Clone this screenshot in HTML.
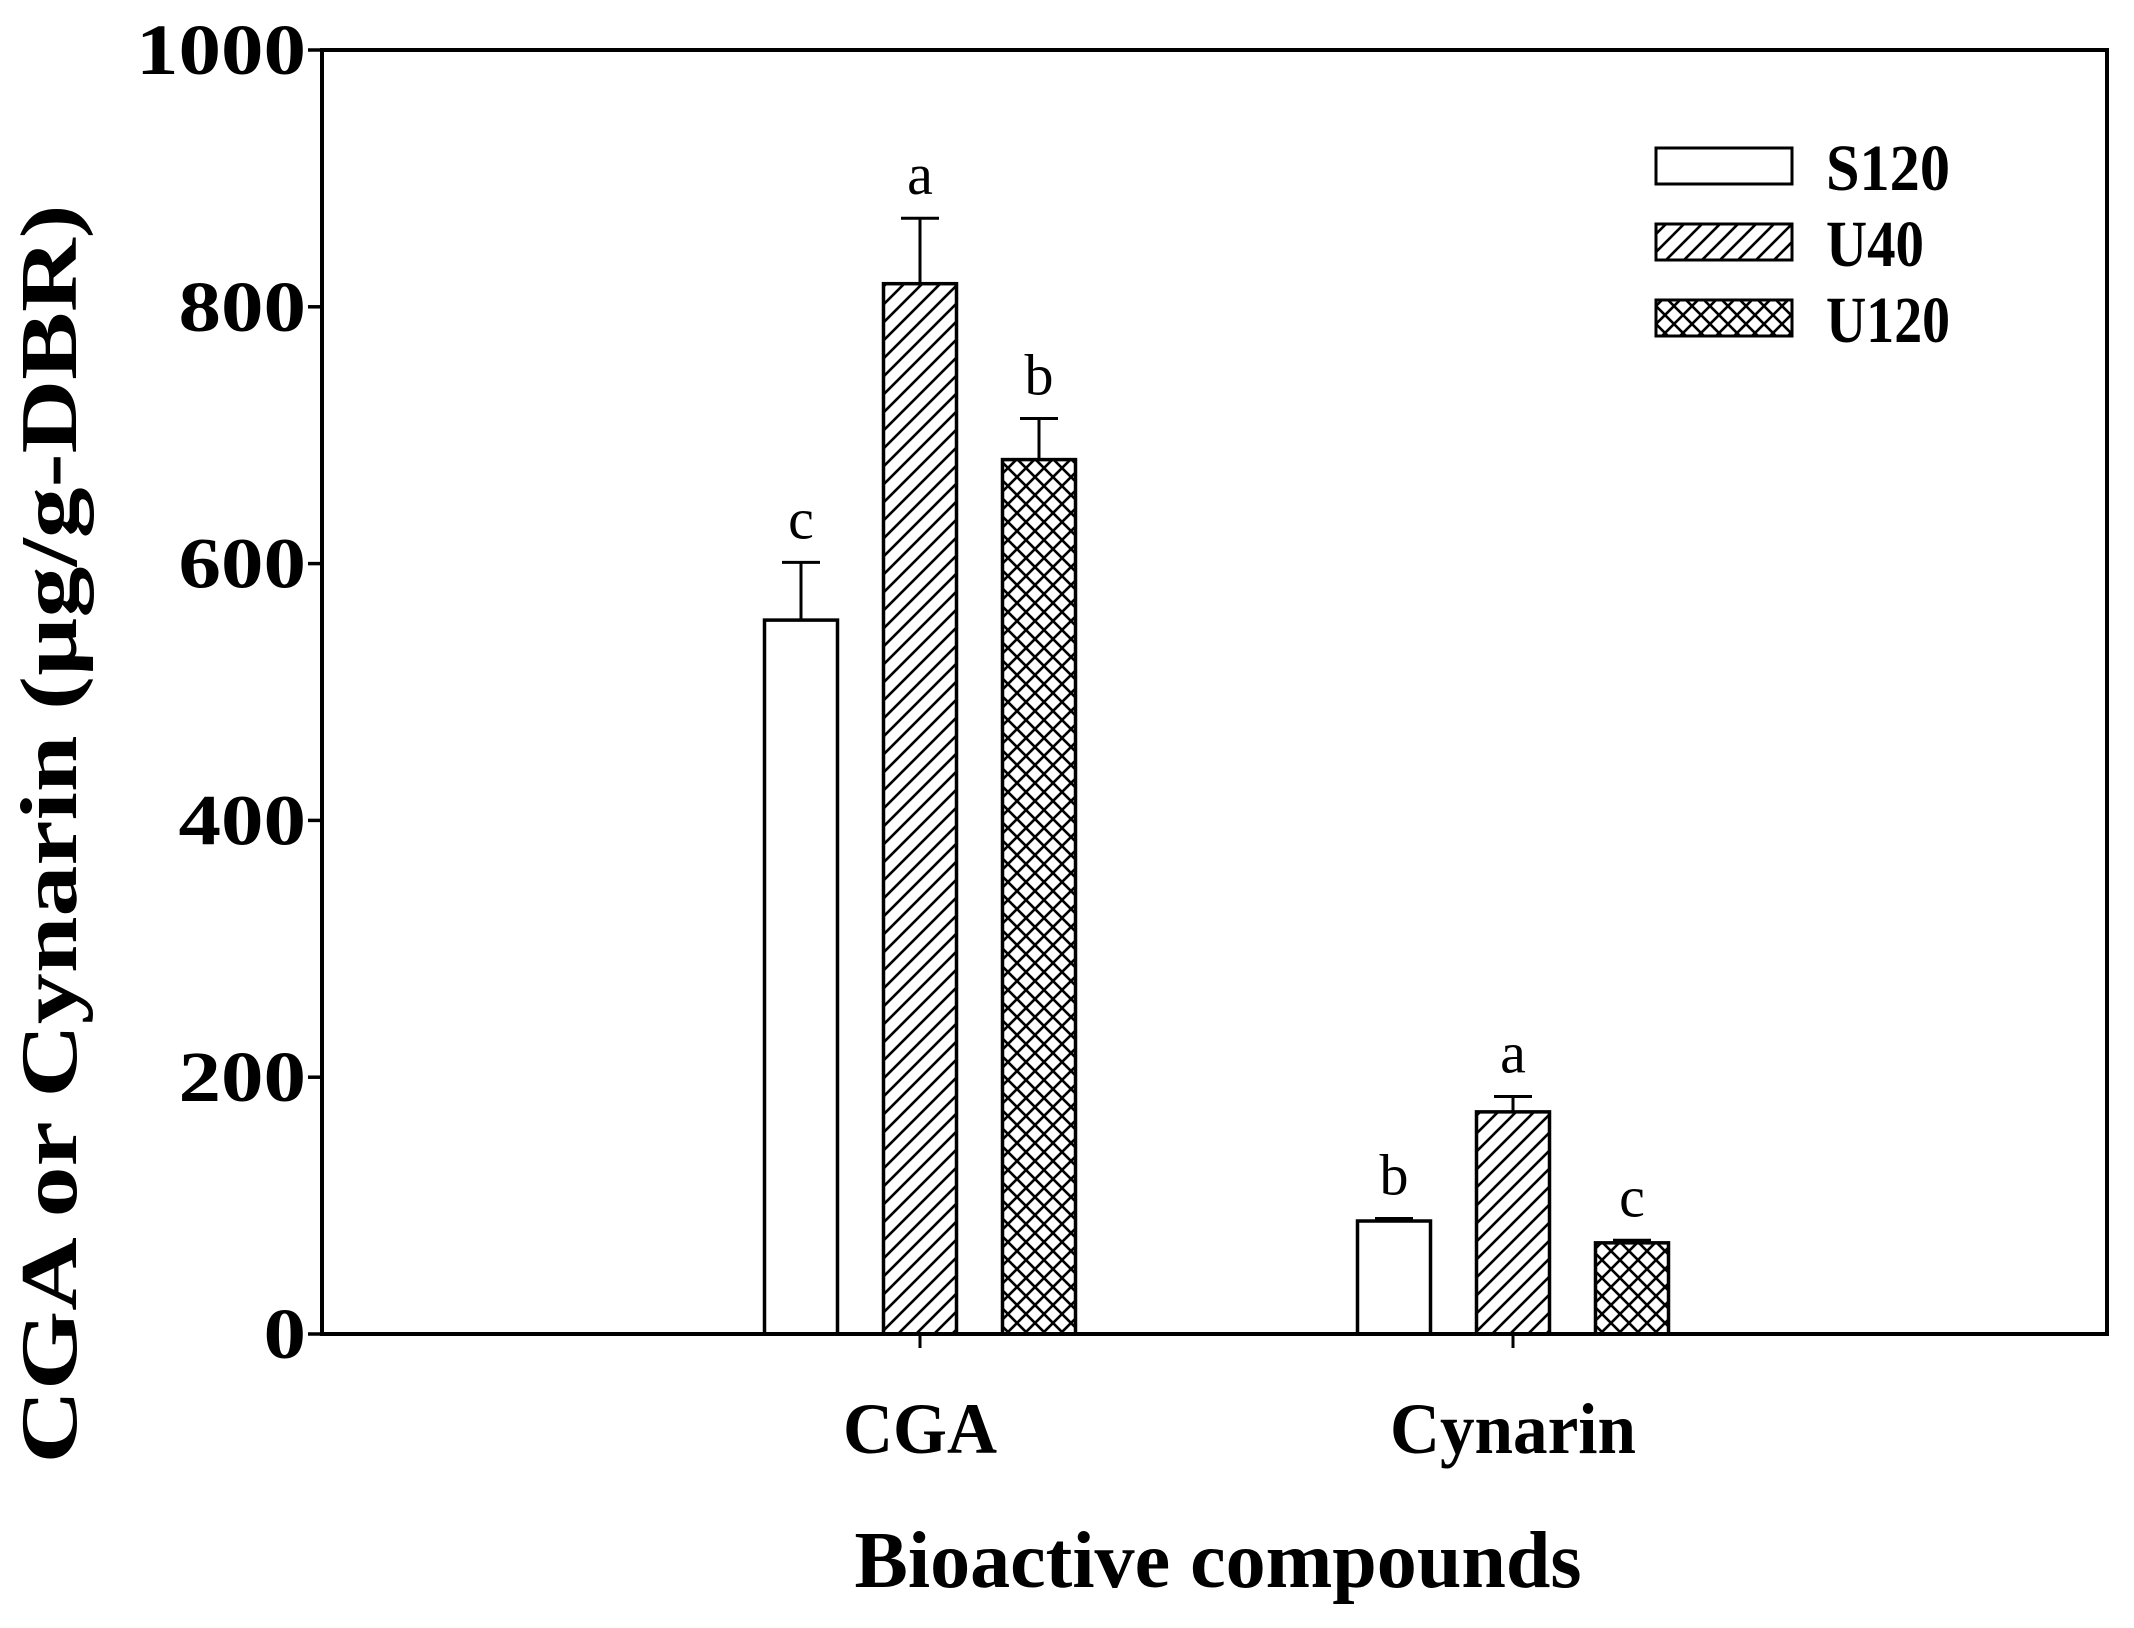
<!DOCTYPE html>
<html><head><meta charset="utf-8"><style>
html,body{margin:0;padding:0;background:#fff}
svg{display:block}
text{font-family:"Liberation Serif",serif;fill:#000}
</style></head><body>
<svg id="chart" width="2134" height="1628" viewBox="0 0 2134 1628">
<defs>
<pattern id="hatch" patternUnits="userSpaceOnUse" width="18" height="18">
<path d="M-2,20 L20,-2 M-2,2 L2,-2 M16,20 L20,16" stroke="#000" stroke-width="2.6"/>
</pattern>
<pattern id="cross" patternUnits="userSpaceOnUse" width="18" height="18">
<path d="M0,0 L18,18 M18,0 L0,18" stroke="#000" stroke-width="2.6"/>
</pattern>
</defs>
<g id="plot"></g>
</svg>
<script>
const categories = ["CGA", "Cynarin"];
const seriesNames = ["S120", "U40", "U120"];
const s120Values = [556, 88];
const u40Values = [818, 173];
const u120Values = [681, 71];
const s120Errors = [45, 2];
const u40Errors = [51, 12];
const u120Errors = [32, 2];
const s120Letters = ["c", "b"];
const u40Letters = ["a", "a"];
const u120Letters = ["b", "c"];
const yTicks = [0, 200, 400, 600, 800, 1000];

const NS = "http://www.w3.org/2000/svg";
const g = document.getElementById("plot");
const L = 322, R = 2107, T = 50, B = 1334;
function y(v){ return B - (v / 1000) * (B - T); }
function xc(i){ return 920 + 593 * i; }
const offsets = [-119, 0, 119];
const barW = 73;
function el(tag, attrs, parent){
  const e = document.createElementNS(NS, tag);
  for (const k in attrs) e.setAttribute(k, attrs[k]);
  (parent || g).appendChild(e);
  return e;
}
const fills = ["#fff", "url(#hatch)", "url(#cross)"];
const vals = [s120Values, u40Values, u120Values];
const errs = [s120Errors, u40Errors, u120Errors];
const letters = [s120Letters, u40Letters, u120Letters];

for (let s = 0; s < 3; s++) {
  for (let i = 0; i < categories.length; i++) {
    const cx = xc(i) + offsets[s];
    const top = y(vals[s][i]);
    const bar = el("rect", {x: cx - barW/2, y: top, width: barW, height: B - top, fill: fills[s], stroke: "#000", "stroke-width": 3.5});
    
    
    const et = y(vals[s][i] + errs[s][i]);
    const eb = el("path", {d: `M${cx},${top} L${cx},${et} M${cx-19},${et} L${cx+19},${et}`, stroke: "#000", "stroke-width": 3, fill: "none"});
    
    
    const lt = el("text", {x: cx, y: et - 24, "text-anchor": "middle", "font-size": 58});
    lt.textContent = letters[s][i];
    
    
  }
}

const frame = el("rect", {x: L, y: T, width: R - L, height: B - T, fill: "none", stroke: "#000", "stroke-width": 4});



for (const t of yTicks) {
  const tk = el("line", {x1: L - 14, x2: L, y1: y(t), y2: y(t), stroke: "#000", "stroke-width": 3.5});
  
  
  const s = String(t);
  const tl = el("text", {x: L - 16, y: y(t) + 24, "text-anchor": "end", "font-size": 72, "font-weight": "bold", textLength: 42.5 * s.length, lengthAdjust: "spacingAndGlyphs"});
  tl.textContent = s;
  
  
}
const xw = [154, 246];
for (let i = 0; i < categories.length; i++) {
  const tk = el("line", {x1: xc(i), x2: xc(i), y1: B, y2: B + 14, stroke: "#000", "stroke-width": 3});
  
  
  const tl = el("text", {x: xc(i), y: 1453, "text-anchor": "middle", "font-size": 72, "font-weight": "bold", textLength: xw[i], lengthAdjust: "spacingAndGlyphs"});
  tl.textContent = categories[i];
  
  
}
const xt = el("text", {x: 1218, y: 1587, "text-anchor": "middle", "font-size": 80, "font-weight": "bold", textLength: 727, lengthAdjust: "spacingAndGlyphs"});
xt.textContent = "Bioactive compounds";


const yt = el("text", {x: 0, y: 0, "text-anchor": "middle", "font-size": 80, "font-weight": "bold", textLength: 1259, lengthAdjust: "spacingAndGlyphs", transform: "translate(76,834) rotate(-90)"});
yt.textContent = "CGA or Cynarin (µg/g-DBR)";



const lw = [124, 98, 124];
for (let s = 0; s < 3; s++) {
  const cy = 166 + 76 * s;
  const box = el("rect", {x: 1656, y: cy - 18, width: 136, height: 36, fill: fills[s], stroke: "#000", "stroke-width": 3});
  
  
  const lt = el("text", {x: 1826, y: cy + 24, "font-size": 66, "font-weight": "bold", textLength: lw[s], lengthAdjust: "spacingAndGlyphs"});
  lt.textContent = seriesNames[s];
  
  
}
</script>
</body></html>
